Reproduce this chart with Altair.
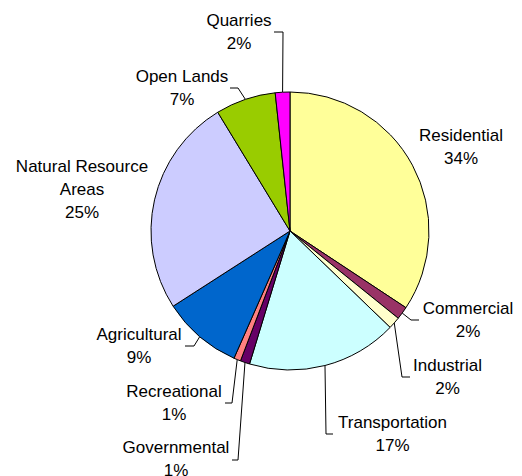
import math
import altair as alt
import pandas as pd

# ---- data ----
categories = ["Residential", "Commercial", "Industrial", "Transportation",
              "Governmental", "Recreational", "Agricultural",
              "Natural Resource Areas", "Open Lands", "Quarries"]
values = [34.3, 1.5, 1.4, 17.5, 1.1, 0.8, 9.3, 25.4, 7.0, 1.7]
pct_labels = ["34%", "2%", "2%", "17%", "1%", "1%", "9%", "25%", "7%", "2%"]
label_names = ["Residential", "Commercial", "Industrial", "Transportation",
               "Governmental", "Recreational", "Agricultural",
               "Natural Resource\nAreas", "Open Lands", "Quarries"]
colors = ["#FFFF99", "#993366", "#FFFFCC", "#CCFFFF", "#660066",
          "#FF8080", "#0066CC", "#CCCCFF", "#99CC00", "#FF00FF"]

# ---- layout (page pixels) ----
CX, CY, R = 290, 231, 139
W, H = 506, 468
LINE_H = 23
label_pos = {  # centre of each label block
    "Residential": (461, 147), "Commercial": (468, 320),
    "Industrial": (447.5, 377), "Transportation": (392.5, 434),
    "Governmental": (176, 459.5), "Recreational": (174, 403),
    "Agricultural": (139, 346), "Natural Resource Areas": (82, 190),
    "Open Lands": (182, 88), "Quarries": (239, 32),
}
leader = {  # elbow point, tick end (page pixels)
    "Quarries": ((283, 32), (274, 32)),
    "Open Lands": ((238, 88), (230, 88)),
    "Commercial": ((411, 320), (419, 320)),
    "Industrial": ((402, 377), (410, 377)),
    "Transportation": ((326, 434), (333, 434)),
    "Governmental": ((238, 460), (232, 460)),
    "Recreational": ((232, 403), (225, 403)),
    "Agricultural": ((194, 346), (185, 346)),
}

def ux(px):
    return (px - CX) / R

def vy(py):
    return (CY - py) / R

xs = alt.Scale(domain=[ux(8), ux(8 + W)], nice=False, zero=False)
ys = alt.Scale(domain=[vy(8 + H), vy(8)], nice=False, zero=False)

pie_df = pd.DataFrame({"cat": categories, "value": values,
                       "order": list(range(len(categories)))})

total = sum(values)
mid_angle = {}
acc = 0.0
for c, v in zip(categories, values):
    mid_angle[c] = (acc + v / 2) / total * 2 * math.pi
    acc += v

lab_rows = []
for c, n, p in zip(categories, label_names, pct_labels):
    txt = n + "\n" + p
    nlines = txt.count("\n") + 1
    lx, ly = label_pos[c]
    ly_first = ly - (nlines - 1) * LINE_H / 2
    lab_rows.append({"cat": c, "x": ux(lx), "y": vy(ly_first), "text": txt})
lab_df = pd.DataFrame(lab_rows)

line_rows = []
for c, (elbow, end) in leader.items():
    a = mid_angle[c]
    pts = [(math.sin(a), math.cos(a)), (ux(elbow[0]), vy(elbow[1])),
           (ux(end[0]), vy(end[1]))]
    for i, (x, y) in enumerate(pts):
        line_rows.append({"cat": c, "i": i, "x": x, "y": y})
line_df = pd.DataFrame(line_rows)

pie = alt.Chart(pie_df).mark_arc(radius=R, stroke="black", strokeWidth=1).encode(
    theta=alt.Theta("value:Q", stack=True),
    order=alt.Order("order:Q"),
    color=alt.Color("cat:N", scale=alt.Scale(domain=categories, range=colors), legend=None),
    x=alt.datum(0, scale=xs, axis=None),
    y=alt.datum(0, scale=ys, axis=None),
)

lines = alt.Chart(line_df).mark_line(color="black", strokeWidth=1).encode(
    x=alt.X("x:Q", scale=xs, axis=None),
    y=alt.Y("y:Q", scale=ys, axis=None),
    detail="cat:N",
    order="i:Q",
)

labels = alt.Chart(lab_df).mark_text(
    font="Liberation Sans", fontSize=17, lineHeight=LINE_H, lineBreak="\n",
    align="center", baseline="middle", color="black",
).encode(
    x=alt.X("x:Q", scale=xs, axis=None),
    y=alt.Y("y:Q", scale=ys, axis=None),
    text="text:N",
)

chart = alt.layer(lines, pie, labels).properties(
    width=W, height=H, padding=0, autosize=alt.AutoSizeParams(type="none"),
    background="white",
).configure_view(stroke=None)

chart.save("out.html", embed_options={"renderer": "svg", "actions": False})
